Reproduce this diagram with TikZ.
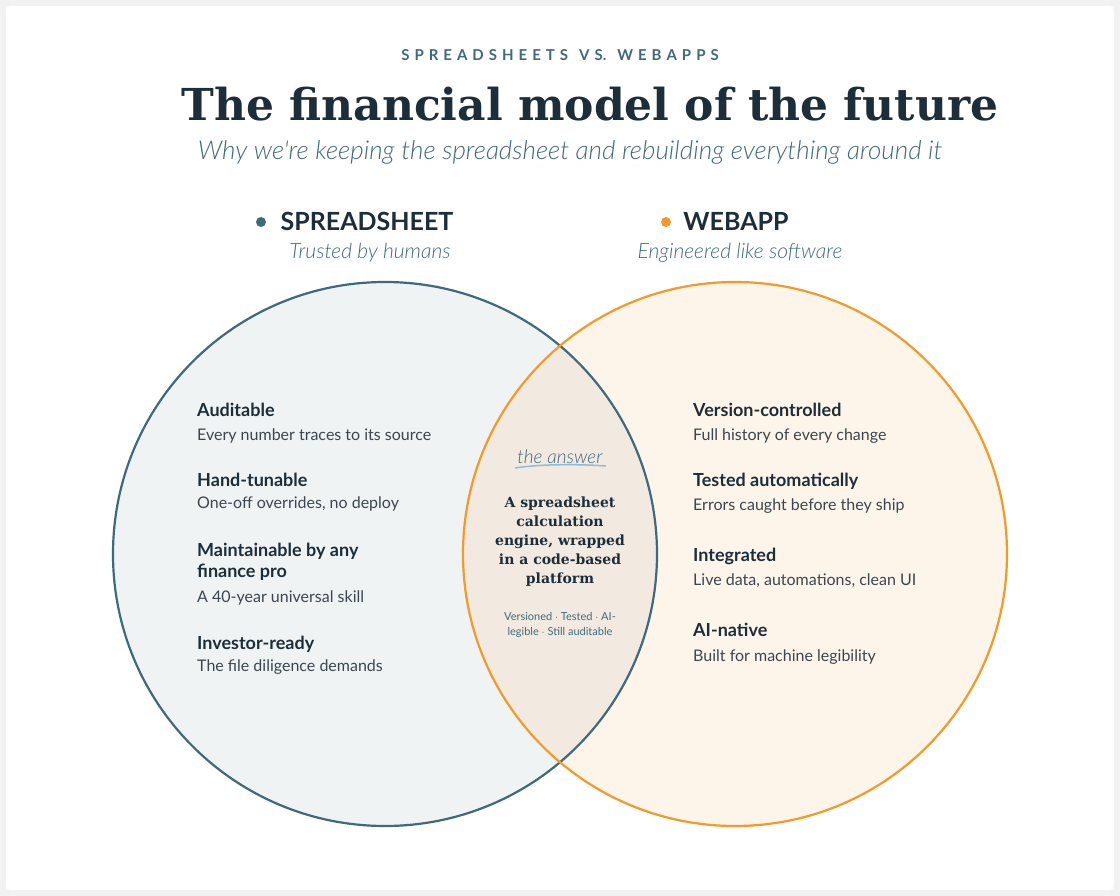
\documentclass[tikz,border=0pt]{standalone}
\usepackage{fontspec}
\setmainfont{Lato}
\newfontfamily\slab{DejaVu Serif}
\newfontfamily\hand{Lato Light Italic}[ItalicFont={Lato Light Italic}]
\usetikzlibrary{positioning}
\definecolor{ink}{HTML}{1C2E3A}
\definecolor{teal}{HTML}{3E6A7C}
\definecolor{orng}{HTML}{F39A2B}
\definecolor{lfill}{HTML}{EFF3F4}
\definecolor{rfill}{HTML}{FDF5EA}
\definecolor{mfill}{HTML}{F2EAE1}
\definecolor{grey}{HTML}{3C4650}

\tikzset{
  head/.style={font=\fontsize{18}{21}\selectfont\bfseries, text=ink, anchor=north west, inner sep=0pt},
  desc/.style={font=\fontsize{16}{19}\selectfont, text=grey, anchor=north west, inner sep=0pt},
  tag/.style={font=\fontsize{25}{28}\selectfont\bfseries, text=ink, inner sep=0pt},
  sub/.style={font=\hand\fontsize{21}{24}\selectfont, text=teal, inner sep=0pt}
}

\begin{document}
\begin{tikzpicture}[x=1pt,y=-1pt]
    % Page
    \fill[gray!10] (0,0) rectangle (1120,896);
    \useasboundingbox (0,0) rectangle (1120,896);
    \fill[white, rounded corners=4] (6,6) rectangle (1114,890);

    % Titles
    \node[font=\fontsize{15}{16}\selectfont\bfseries, text=teal] (kicker) at (560,55) {S\,\,P\,\,R\,\,E\,\,A\,\,D\,\,S\,\,H\,\,E\,\,E\,\,T\,\,S\ \ \ V\,\,S.\ \ \ W\,\,E\,\,B\,\,A\,\,P\,\,P\,\,S};
    \node[font=\slab\bfseries\fontsize{44}{50}\selectfont, text=ink] (title) at (590,104) {The financial model of the future};
    \node[sub, font=\hand\fontsize{26}{30}\selectfont] (subtitle) at (570,152) {Why we're keeping the spreadsheet and rebuilding everything around it};

    % Circles
    \fill[lfill] (385,554) circle (272);
    \fill[rfill] (735,554) circle (272);
    \begin{scope}
        \clip (385,554) circle (272);
        \fill[mfill] (735,554) circle (272);
    \end{scope}
    \draw[teal, line width=2.2] (385,554) circle (272);
    \draw[orng, line width=2.2] (735,554) circle (272);

    % Set labels
    \node[tag] (sheet) at (367,221) {SPREADSHEET};
    \fill[teal] (261,222) circle (5);
    \node[sub] (sheetsub) at (370,253) {Trusted by humans};
    \node[tag] (app) at (736,221) {WEBAPP};
    \fill[orng] (666,222) circle (5);
    \node[sub] (appsub) at (740,253) {Engineered like software};

    % Left items
    \node[head] (a1) at (197,403) {Auditable};
    \node[desc] (a2) at (197,429) {Every number traces to its source};
    \node[head] (b1) at (197,473) {Hand-tunable};
    \node[desc] (b2) at (197,497) {One-off overrides, no deploy};
    \node[head, align=left] (c1) at (197,543) {Maintainable by any\\finance pro};
    \node[desc] (c2) at (197,591) {A 40-year universal skill};
    \node[head] (d1) at (197,636) {Investor-ready};
    \node[desc] (d2) at (197,660) {The file diligence demands};

    % Right items
    \node[head] (e1) at (693,403) {Version-controlled};
    \node[desc] (e2) at (693,429) {Full history of every change};
    \node[head] (f1) at (693,473) {Tested automatically};
    \node[desc] (f2) at (693,499) {Errors caught before they ship};
    \node[head] (g1) at (693,548) {Integrated};
    \node[desc] (g2) at (693,574) {Live data, automations, clean UI};
    \node[head] (h1) at (693,623) {AI-native};
    \node[desc] (h2) at (693,650) {Built for machine legibility};

    % Overlap
    \node[sub, font=\hand\fontsize{19}{22}\selectfont] (answer) at (560,457) {the answer};
    \draw[cyan!50!teal!60, line width=1.5] (515,468) .. controls (540,464) and (580,464) .. (606,466);
    \node[font=\slab\bfseries\fontsize{14}{19}\selectfont, text=ink, align=center] (core) at (560,542)
        {A spreadsheet\\calculation\\engine, wrapped\\in a code-based\\platform};
    \node[font=\fontsize{11}{15}\selectfont, text=teal, align=center] (notes) at (560,625)
        {Versioned $\cdot$ Tested $\cdot$ AI-\\legible $\cdot$ Still auditable};
\end{tikzpicture}
\end{document}
